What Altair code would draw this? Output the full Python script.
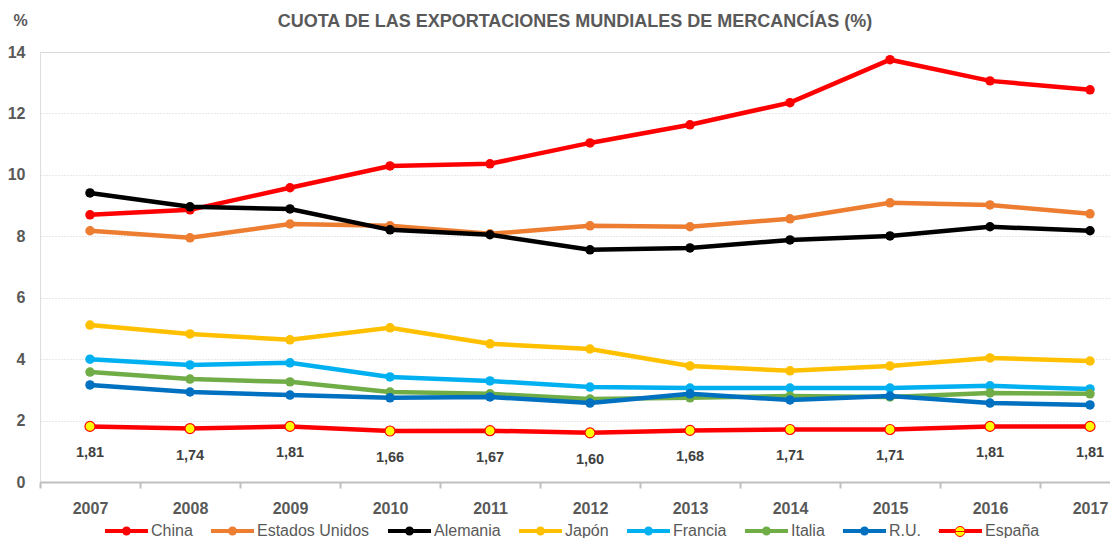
import altair as alt
import pandas as pd

years = list(range(2007, 2018))
series_names = ["China", "Estados Unidos", "Alemania", "Japón", "Francia", "Italia", "R.U.", "España"]
series_colors = ["#FF0000", "#ED7D31", "#000000", "#FFC000", "#00B0F0", "#70AD47", "#0070C0", "#FF0000"]

china = [8.70, 8.86, 9.58, 10.29, 10.36, 11.04, 11.63, 12.35, 13.75, 13.06, 12.77]
estados_unidos = [8.18, 7.95, 8.40, 8.34, 8.08, 8.34, 8.31, 8.57, 9.09, 9.02, 8.73]
alemania = [9.41, 8.96, 8.89, 8.21, 8.05, 7.56, 7.62, 7.88, 8.01, 8.31, 8.18]
japon = [5.11, 4.82, 4.63, 5.02, 4.50, 4.33, 3.78, 3.62, 3.78, 4.04, 3.94]
francia = [4.00, 3.81, 3.88, 3.42, 3.29, 3.09, 3.06, 3.06, 3.06, 3.13, 3.03]
italia = [3.58, 3.35, 3.26, 2.93, 2.87, 2.70, 2.74, 2.80, 2.77, 2.90, 2.87]
reino_unido = [3.16, 2.93, 2.83, 2.74, 2.77, 2.57, 2.87, 2.67, 2.80, 2.57, 2.51]
espana = [1.81, 1.74, 1.81, 1.66, 1.67, 1.60, 1.68, 1.71, 1.71, 1.81, 1.81]

all_values = [china, estados_unidos, alemania, japon, francia, italia, reino_unido, espana]

rows = []
for name, vals in zip(series_names, all_values):
    for y, v in zip(years, vals):
        rows.append({"year": y, "serie": name, "valor": v})
df = pd.DataFrame(rows)

GRAY = "#595959"
FONT = "Liberation Sans"
x_values = [2006.5 + 0.5 * i for i in range(22)]

x_enc = alt.X(
    "year:Q",
    title=None,
    scale=alt.Scale(domain=[2006.5, 2017.2], nice=False, zero=False),
    axis=alt.Axis(
        values=x_values,
        labelExpr="datum.value % 1 === 0 ? datum.value : ''",
        labelOverlap=False,
        labelFlush=False,
        labelFont=FONT,
        labelFontSize=16,
        labelFontWeight="bold",
        labelColor=GRAY,
        labelPadding=12,
        grid=False,
        domainColor="#BFBFBF",
        domainWidth=2,
        tickColor="#BFBFBF",
        tickWidth=2,
        tickSize=6,
        tickOpacity={"condition": {"test": "datum.value % 1 === 0", "value": 0}, "value": 1},
    ),
)

y_enc = alt.Y(
    "valor:Q",
    scale=alt.Scale(domain=[0, 14], nice=False),
    axis=alt.Axis(
        values=[0, 2, 4, 6, 8, 10, 12, 14],
        title="%",
        titleAngle=0,
        titleX=-27,
        titleY=-32,
        titleAlign="left",
        titleBaseline="middle",
        titleFont=FONT,
        titleFontSize=16,
        titleFontWeight="bold",
        titleColor=GRAY,
        labelFont=FONT,
        labelFontSize=16,
        labelFontWeight="bold",
        labelColor=GRAY,
        labelPadding=15,
        domain=False,
        ticks=False,
        grid=True,
        gridColor="#D0D0D0",
        gridDash=[1, 2],
        gridWidth=1,
    ),
)

layers = []
for name, col in zip(series_names, series_colors):
    sub = alt.Chart(df).transform_filter(alt.datum.serie == name)
    line = sub.mark_line(strokeWidth=4.5, color=col).encode(x=x_enc, y=y_enc)
    if name == "España":
        pts = sub.mark_point(filled=True, size=100, fill="#FFFF00", stroke="#FF0000",
                             strokeWidth=1.2, opacity=1).encode(x=x_enc, y=y_enc)
    else:
        pts = sub.mark_circle(size=90, color=col, opacity=1).encode(x=x_enc, y=y_enc)
    layers += [line, pts]

labels = (
    alt.Chart(df)
    .transform_filter(alt.datum.serie == "España")
    .transform_calculate(lab="replace(format(datum.valor, '.2f'), '.', ',')")
    .mark_text(dy=27, font=FONT, fontSize=14.5, fontWeight="bold", color="#404040",
               baseline="middle", align="center")
    .encode(x=x_enc, y=y_enc, text="lab:N")
)
layers.append(labels)

# line from -3.3 to 1.0 units, circle centred at -1.15 (units of 10 px)
legend_symbol = ("M-3.3,-0.2 L1,-0.2 L1,0.2 L-3.3,0.2 Z "
                 "M-0.7,0 A0.45,0.45 0 1,1 -1.6,0 A0.45,0.45 0 1,1 -0.7,0 Z")
# same extent, but only the circle has area (for the yellow España marker)
legend_circle = ("M-3.3,0 L1,0 "
                 "M-0.65,0 A0.5,0.5 0 1,1 -1.65,0 A0.5,0.5 0 1,1 -0.65,0 Z")

legend_layer = alt.Chart(df).mark_circle(opacity=0, size=10).encode(
    x=x_enc,
    y=y_enc,
    color=alt.Color(
        "serie:N",
        scale=alt.Scale(domain=series_names, range=series_colors),
        legend=alt.Legend(
            title=None,
            orient="none",
            direction="horizontal",
            columns=8,
            legendX=88,
            legendY=469,
            symbolType=legend_symbol,
            symbolSize=400,
            symbolOpacity=1,
            symbolStrokeWidth=0,
            labelFont=FONT,
            labelFontSize=16,
            labelColor=GRAY,
            labelOffset=3,
            columnPadding=18,
        ),
    ),
)
layers.append(legend_layer)

espana_marker = (
    alt.Chart(df)
    .transform_filter(alt.datum.serie == "España")
    .mark_point(filled=True, opacity=0, size=10)
    .encode(
        x=x_enc,
        y=y_enc,
        fill=alt.Fill(
            "serie:N",
            scale=alt.Scale(domain=["España"], range=["#FFFF00"]),
            legend=alt.Legend(
                title=None,
                orient="none",
                legendX=921,
                legendY=469,
                symbolType=legend_circle,
                symbolSize=400,
                symbolOpacity=1,
                symbolStrokeColor="#FF0000",
                symbolStrokeWidth=1,
                labelFont=FONT,
                labelFontSize=16,
                labelColor=GRAY,
                labelOpacity=0,
                labelOffset=3,
            ),
        ),
    )
)
layers.append(espana_marker)

chart = (
    alt.layer(*layers)
    .resolve_legend(color="independent", fill="independent")
    .properties(
        width=1070,
        height=430,
        autosize=alt.AutoSizeParams(type="none"),
        padding={"left": 32, "top": 44, "right": 0, "bottom": 56},
        title=alt.TitleParams(
            "CUOTA DE LAS EXPORTACIONES MUNDIALES DE MERCANCÍAS (%)",
            font=FONT,
            fontSize=18,
            fontWeight="bold",
            color=GRAY,
            anchor="middle",
            offset=0,
            dy=19,
        ),
    )
    .configure_view(stroke=None)
    .configure(background="white")
)

chart.save("out.html", embed_options={"renderer": "svg", "actions": False})
